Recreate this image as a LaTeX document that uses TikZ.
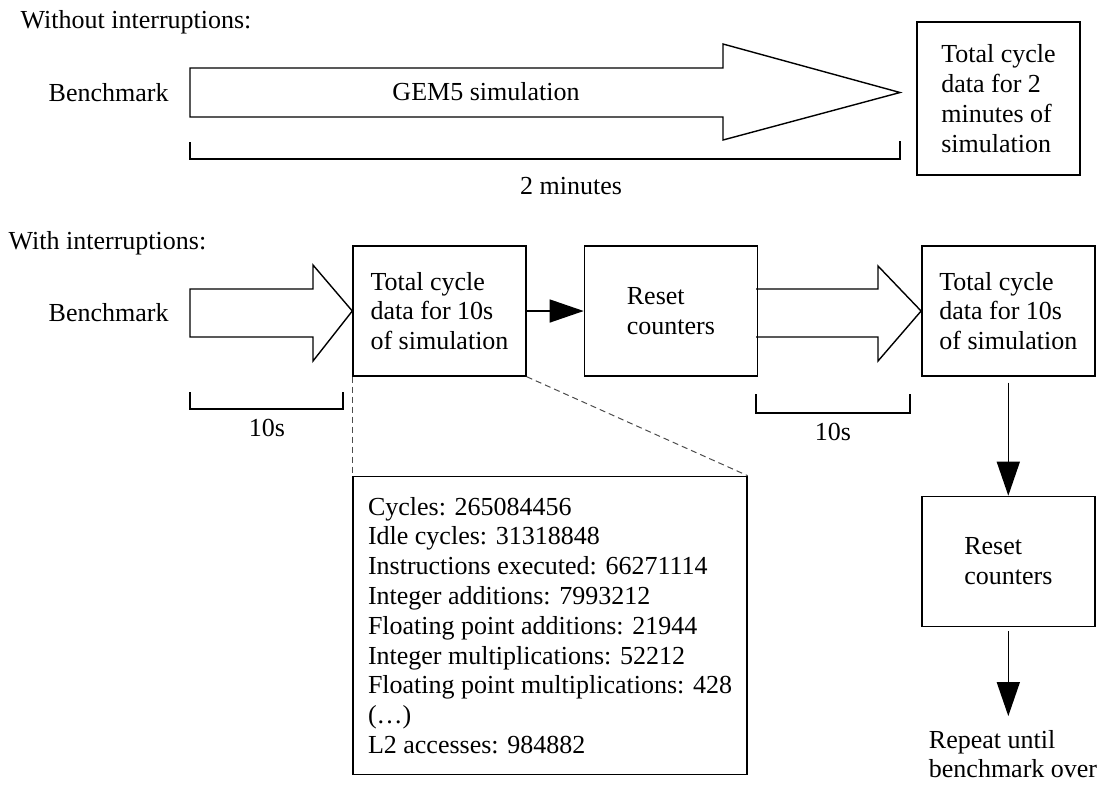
\documentclass[tikz,border=0pt]{standalone}
\usepackage{fontspec}
\setmainfont{Liberation Serif}
\usetikzlibrary{arrows.meta, positioning}

\begin{document}
\begin{tikzpicture}[x=0.5pt, y=-0.5pt, >={Triangle[length=17pt, width=11.5pt]}, line width=0.7pt,
  font=\fontsize{13}{14.9}\selectfont,
  every node/.style={inner sep=0pt, align=left},
  box/.style={draw, minimum width=86.5pt, minimum height=65pt},
  zoomline/.style={dash pattern=on 3pt off 2pt, line width=0.5pt, black!70}]

  \useasboundingbox (0,0) rectangle (1107,784);

  % Without interruptions
  \node (without) [anchor=west] at (20,22) {Without interruptions:};
  \node (benchA) [anchor=west] at (48,93) {Benchmark};
  \node (total) [box, minimum width=81.5pt, minimum height=76.5pt] at (998.5,98.5) {Total cycle\\data for 2\\minutes of\\simulation};
  \coordinate (gemtip) at (900,92.5);
  \draw (190,68) -- (723,68) -- (723,44) -- (gemtip) -- (723,140) -- (723,117) -- (190,117) -- cycle;
  \node (gem) at (486,92) {GEM5 simulation};
  \draw (190,142) |- (900,159) -- (900,141);
  \node (twomin) at (571,186) {2 minutes};

  % With interruptions
  \node (with) [anchor=west] at (8,243) {With interruptions:};
  \node (benchB) [anchor=west] at (48,313) {Benchmark};
  \node (dataA) [box] at (439.5,311) {Total cycle\\data for 10s\\of simulation};
  \node (resetA) [box, right=28.5pt of dataA] {Reset\\counters};
  \node (dataB) [box, right=81.5pt of resetA] {Total cycle\\data for 10s\\of simulation};
  \node (resetB) [box, below=59.5pt of dataB] {Reset\\counters};
  \node (detail) [draw, minimum width=197pt, minimum height=149pt, below=49.5pt of dataA.south west, anchor=north west]
    {Cycles: 265084456\\Idle cycles: 31318848\\Instructions executed: 66271114\\Integer additions: 7993212\\Floating point additions: 21944\\Integer multiplications: 52212\\Floating point multiplications: 428\\(…)\\L2 accesses: 984882};
  \coordinate [below=44.5pt of resetB] (repeatend);
  \node (repeat) at (1013,754) {Repeat until\\benchmark over};

  % Block arrows
  \draw (190,289) -- (313,289) -- (313,265) -- (dataA.west) -- (313,361) -- (313,337) -- (190,337) -- cycle;
  \draw (756,289) -- (878,289) -- (878,266) -- (dataB.west) -- (878,361) -- (878,337) -- (756,337);

  % Edges
  \draw[->] (dataA) -- (resetA);
  \draw[->] ([yshift=-3pt]dataB.south) -- (resetB);
  \draw[->] ([yshift=-2pt]resetB.south) -- (repeatend);

  % Brackets
  \draw (190,392) |- (343,409) -- (343,392);
  \node (tenA) at (267,428) {10s};
  \draw (756,394) |- (910,413) -- (910,394);
  \node (tenB) at (833,432) {10s};

  % Zoom lines
  \draw[zoomline] (dataA.south west) -- (detail.north west);
  \draw[zoomline] (dataA.south east) -- (detail.north east);

\end{tikzpicture}
\end{document}
